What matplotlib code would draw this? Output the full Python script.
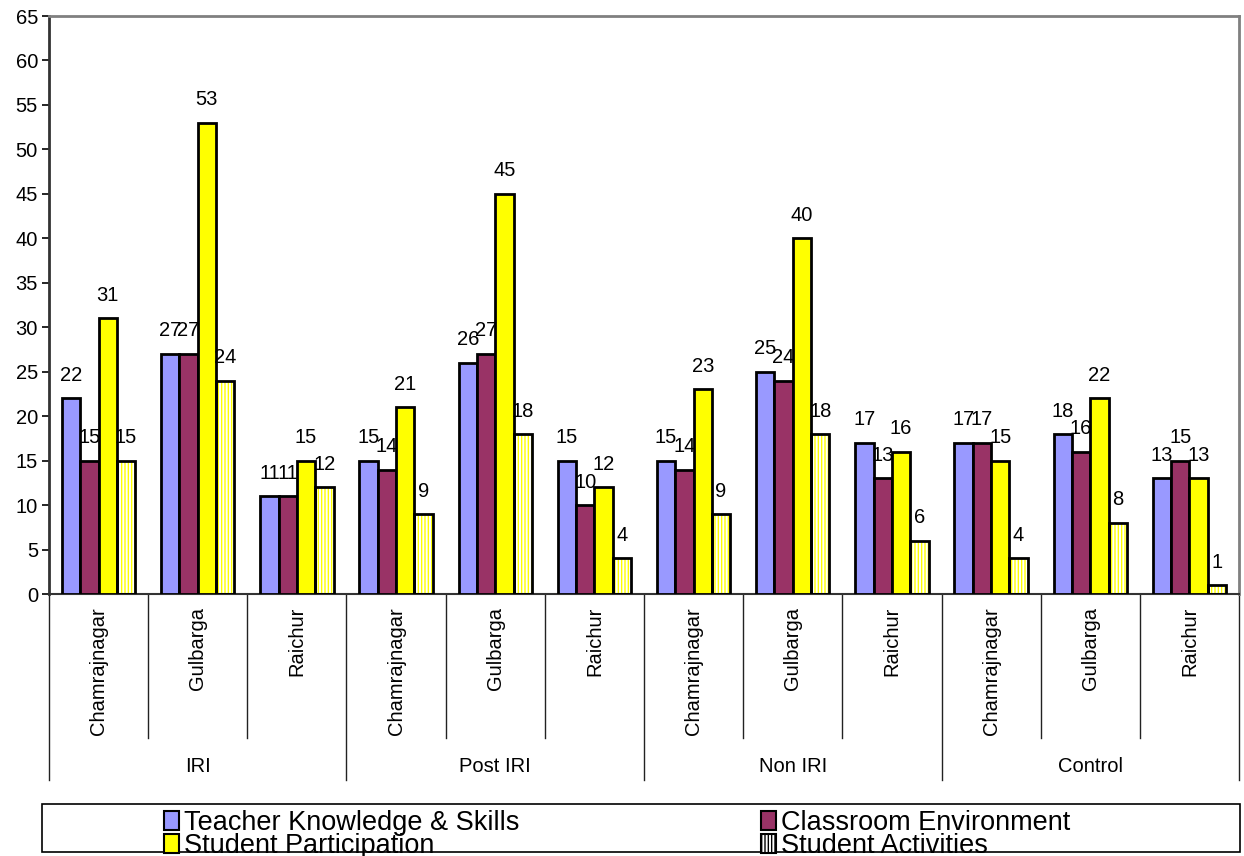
import matplotlib
matplotlib.use('Agg')
import matplotlib.pyplot as plt
import numpy as np
from matplotlib.patches import Patch, Rectangle

plt.rcParams['font.family'] = ['Liberation Sans', 'DejaVu Sans']
plt.rcParams['hatch.linewidth'] = 1.0

groups = ['IRI', 'Post IRI', 'Non IRI', 'Control']
districts = ['Chamrajnagar', 'Gulbarga', 'Raichur']
series = ['Teacher Knowledge & Skills', 'Classroom Environment',
          'Student Participation', 'Student Activities']
teacher = [22, 27, 11, 15, 26, 15, 15, 25, 17, 17, 18, 13]
classroom = [15, 27, 11, 14, 27, 10, 14, 24, 13, 17, 16, 15]
participation = [31, 53, 15, 21, 45, 12, 23, 40, 16, 15, 22, 13]
activities = [15, 24, 12, 9, 18, 4, 9, 18, 6, 4, 8, 1]
yticks = list(range(0, 70, 5))

W, H = 1244, 856
fig = plt.figure(figsize=(W / 100, H / 100), dpi=100)
ax = fig.add_axes([49 / W, 1 - 594 / H, 1190 / W, 578 / H])

values = [teacher, classroom, participation, activities]
colors = ['#9999FF', '#993366', '#FFFF00', 'white']
ncat = len(groups) * len(districts)
x = np.arange(ncat)
width = 0.185
fs = 14.5

for i, (vals, col) in enumerate(zip(values, colors)):
    pos = x + (i - 1.5) * width
    if i == 3:
        ax.bar(pos, vals, width, color='white', edgecolor='#FFFF00',
               hatch='|||||', linewidth=0, zorder=2)
        ax.bar(pos, vals, width, facecolor='none', edgecolor='black',
               linewidth=2, zorder=3)
    else:
        ax.bar(pos, vals, width, color=col, edgecolor='black',
               linewidth=2, zorder=3)
    for xp, v in zip(pos, vals):
        ax.annotate(str(v), (xp, v), xytext=(0, 16.5), textcoords='offset points',
                    ha='center', va='center', fontsize=fs, zorder=4)

ax.set_xlim(-0.5, ncat - 0.5)
ax.set_ylim(0, 65)
ax.set_yticks(yticks)
ax.set_yticklabels([str(t) for t in yticks], fontsize=fs)
ax.tick_params(axis='y', direction='out', length=5, width=1.2, pad=3)
ax.set_xticks([])

for s in ['top', 'right']:
    ax.spines[s].set_color('#808080')
    ax.spines[s].set_linewidth(2)
ax.spines['left'].set_color('#333333')
ax.spines['left'].set_linewidth(2)
ax.spines['bottom'].set_color('#333333')
ax.spines['bottom'].set_linewidth(1.5)

trans = ax.get_xaxis_transform()
for i in range(ncat + 1):
    xb = i - 0.5
    ylow = -0.322 if i % 3 == 0 else -0.249
    ax.plot([xb, xb], [0, ylow], transform=trans, clip_on=False,
            color='#222222', lw=1)

for i in range(ncat):
    ax.text(i, -0.0225, districts[i % 3], rotation=90, ha='center', va='top',
            transform=trans, fontsize=fs)
for g, name in enumerate(groups):
    ax.text(3 * g + 1, -0.299, name, ha='center', va='center',
            transform=trans, fontsize=fs)

handles = [
    Patch(facecolor='#9999FF', edgecolor='black', linewidth=1.5),
    Patch(facecolor='#FFFF00', edgecolor='black', linewidth=1.5),
    Patch(facecolor='#993366', edgecolor='black', linewidth=1.5),
    Patch(facecolor='white', edgecolor='black', hatch='|||||', linewidth=1.5),
]
labels = [series[0], series[2], series[1], series[3]]
fig.legend(handles, labels, ncol=2, loc='upper left',
           bbox_to_anchor=(164 / W, 1 - 810 / H), frameon=False, fontsize=19.5,
           columnspacing=8.9, handlelength=0.55, handleheight=0.7,
           handletextpad=0.2, labelspacing=-0.12, borderpad=0, borderaxespad=0)
fig.add_artist(Rectangle((42 / W, 1 - 852 / H), (1240 - 42) / W, 48 / H,
                         transform=fig.transFigure, fill=False,
                         edgecolor='black', lw=1.2))

fig.savefig('out.png', dpi=100)
